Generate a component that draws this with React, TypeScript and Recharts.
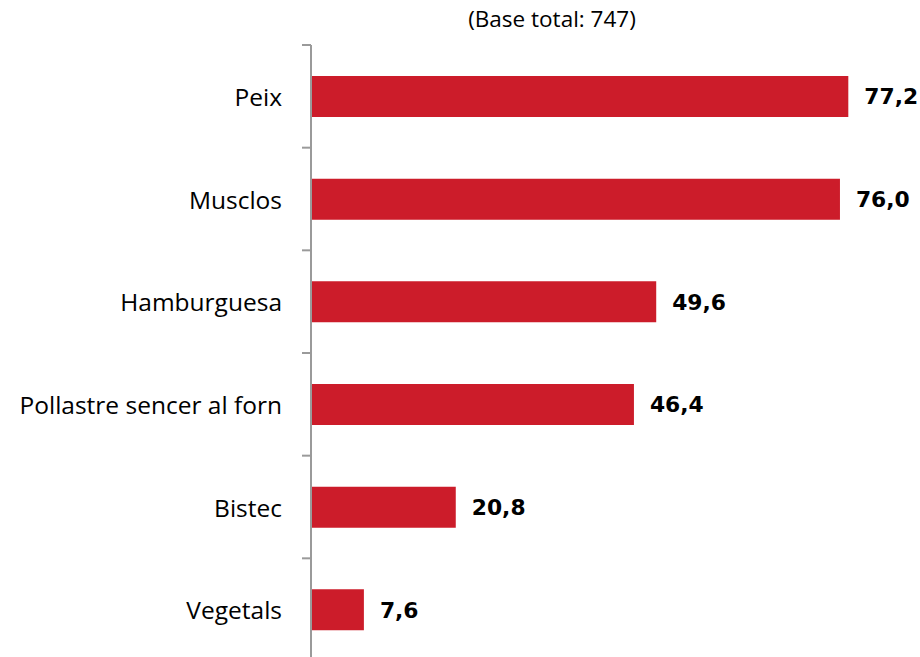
import React from "react";
import { BarChart, Bar, XAxis, YAxis, LabelList } from "recharts";

const categories = ["Peix", "Musclos", "Hamburguesa", "Pollastre sencer al forn", "Bistec", "Vegetals"];
const values = [77.2, 76.0, 49.6, 46.4, 20.8, 7.6];
const title = "(Base total: 747)";

const data = categories.map((name, i) => ({ name, value: values[i] }));

const fmt = (v: any) => Number(v).toFixed(1).replace(".", ",");

const AXIS_GREY = "#9a9a9a";

const CategoryTick = (props: any) => {
  const { x, y, payload, index, visibleTicksCount } = props;
  const half = payload && payload.offset ? payload.offset : 0;
  const axisX = x + 23 + 6;
  const last = index === (visibleTicksCount ?? categories.length) - 1;
  return (
    <g>
      <line x1={axisX - 9} x2={axisX} y1={y - half} y2={y - half} stroke={AXIS_GREY} strokeWidth={2} />
      {last && <line x1={axisX - 9} x2={axisX} y1={y + half} y2={y + half} stroke={AXIS_GREY} strokeWidth={2} />}
      <text
        x={x}
        y={y}
        textAnchor="end"
        dominantBaseline="central"
        fill="#000"
        fontSize={24.5}
        fontFamily="'Open Sans', sans-serif"
      >
        {payload.value}
      </text>
    </g>
  );
};

export default function App() {
  return (
    <div style={{ position: "absolute", left: 0, top: 0, width: 920, height: 657, overflow: "hidden", background: "#fff" }}>
      <div
        style={{
          position: "absolute",
          left: 0,
          width: 1104,
          top: 4,
          textAlign: "center",
          fontFamily: "'Open Sans', sans-serif",
          fontSize: 22.5,
          lineHeight: "30px",
          color: "#000",
        }}
      >
        {title}
      </div>
      <BarChart
        width={920}
        height={661}
        data={data}
        layout="vertical"
        margin={{ top: 45, right: 0, bottom: 0, left: 0 }}
      >
        <XAxis type="number" domain={[0, 87.5]} hide />
        <YAxis
          type="category"
          dataKey="name"
          width={311}
          axisLine={{ stroke: AXIS_GREY, strokeWidth: 2 }}
          tickLine={false}
          tickMargin={23}
          tick={<CategoryTick />}
          interval={0}
        />
        <Bar dataKey="value" fill="#cc1c2a" barSize={41} isAnimationActive={false}>
          <LabelList
            dataKey="value"
            position="right"
            offset={16}
            formatter={fmt}
            style={{ fill: "#000", fontSize: 21.8, fontWeight: "bold", fontFamily: "'DejaVu Sans', Verdana, sans-serif" }}
          />
        </Bar>
      </BarChart>
    </div>
  );
}
